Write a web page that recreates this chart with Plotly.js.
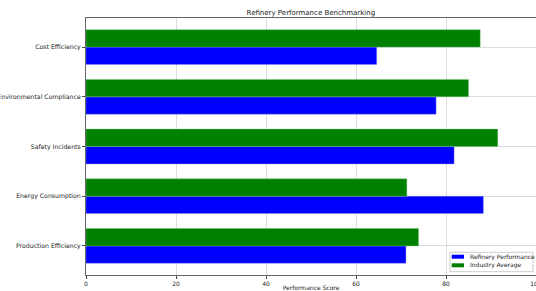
<!DOCTYPE html>
<html>
<head>
<meta charset="utf-8">
<script src="https://cdn.plot.ly/plotly-3.0.1.min.js"></script>
<style>html,body{margin:0;padding:0;background:#fff;}#chart{width:536px;height:291px;}</style>
</head>
<body>
<div id="chart"></div>
<script>
const categories = ["Production Efficiency", "Energy Consumption", "Safety Incidents", "Environmental Compliance", "Cost Efficiency"];
const refineryPerformance = [71.1, 88.3, 81.8, 77.8, 64.6];
const industryAverage = [73.9, 71.3, 91.5, 85.0, 87.6];
const xTicks = [0, 20, 40, 60, 80, 100];
const seriesNames = ["Refinery Performance", "Industry Average"];
const seriesColors = ["#0000ff", "#008000"];

const font = {family: "DejaVu Sans", size: 6, color: "#222"};
const yFont = {family: "DejaVu Sans", size: 6.2, color: "#222"};

const traces = [
  {type: "bar", orientation: "h", name: seriesNames[0], y: categories, x: refineryPerformance,
   marker: {color: seriesColors[0], line: {color: "rgba(140,140,255,0.8)", width: 0.5}}},
  {type: "bar", orientation: "h", name: seriesNames[1], y: categories, x: industryAverage,
   marker: {color: seriesColors[1], line: {color: "rgba(120,200,120,0.8)", width: 0.5}}}
];

// manual legend (matplotlib-style compact box)
const px = v => (v - 86) / 450;
const py = v => (275 - v) / 257;
const shapes = [
  {type: "rect", xref: "paper", yref: "paper", x0: px(450), x1: px(533), y0: py(271.7), y1: py(252.3),
   line: {color: "#cccccc", width: 1}, fillcolor: "rgba(255,255,255,0.8)", layer: "above"},
  {type: "rect", xref: "paper", yref: "paper", x0: px(451.7), x1: px(464), y0: py(258.7), y1: py(254.7),
   line: {width: 0}, fillcolor: seriesColors[0], layer: "above"},
  {type: "rect", xref: "paper", yref: "paper", x0: px(451.7), x1: px(464), y0: py(267.3), y1: py(263.3),
   line: {width: 0}, fillcolor: seriesColors[1], layer: "above"}
];
const annotations = [
  {xref: "paper", yref: "paper", x: px(467.5), y: py(256.7), xanchor: "left", yanchor: "middle",
   text: seriesNames[0], showarrow: false, font: font},
  {xref: "paper", yref: "paper", x: px(467.5), y: py(265.3), xanchor: "left", yanchor: "middle",
   text: seriesNames[1], showarrow: false, font: font}
];

const layout = {
  width: 536, height: 291,
  margin: {l: 86, r: 0, t: 18, b: 16, pad: 0},
  paper_bgcolor: "#fff", plot_bgcolor: "#fff",
  barmode: "group", bargap: 0.3, bargroupgap: 0,
  showlegend: false,
  title: {text: "Refinery Performance Benchmarking", font: {family: "DejaVu Sans", size: 7, color: "#222"},
          x: 0.58, xanchor: "center", y: 0.958, yref: "container", yanchor: "middle"},
  font: font,
  xaxis: {
    range: [0, 100], tickvals: xTicks, ticktext: xTicks.map(String),
    showgrid: true, gridcolor: "#dcdcdc", gridwidth: 1,
    showline: true, mirror: true, linecolor: "#666", linewidth: 1,
    ticks: "outside", ticklen: 3, tickcolor: "#444", tickfont: font,
    ticklabeloverflow: "allow",
    zeroline: false, automargin: false,
    title: {text: "Performance Score", font: font, standoff: 3}
  },
  yaxis: {
    type: "category", range: [-0.585, 4.585],
    showgrid: true, gridcolor: "#dcdcdc", gridwidth: 1,
    showline: true, mirror: true, linecolor: "#666", linewidth: 1,
    ticks: "outside", ticklen: 3, tickcolor: "#444", tickfont: yFont,
    ticklabeloverflow: "allow",
    zeroline: false, automargin: false
  },
  shapes: shapes,
  annotations: annotations
};

Plotly.newPlot("chart", traces, layout, {displayModeBar: false, staticPlot: true});
</script>
</body>
</html>
